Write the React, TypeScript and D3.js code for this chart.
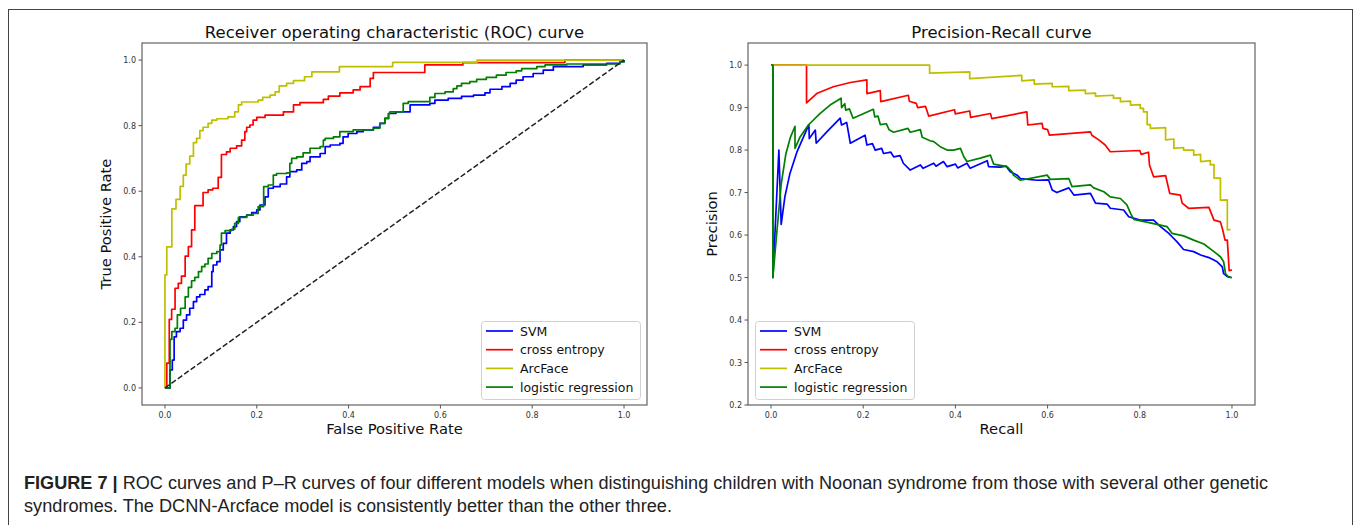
import React from 'react';
import * as d3 from 'd3';

type Pt = [number, number];

// legend order = drawing order
const models = ['SVM', 'cross entropy', 'ArcFace', 'logistic regression'];
const modelColors = ['#0000ff', '#ff0000', '#bfbf00', '#008000'];

// ROC curves: [false positive rate, true positive rate], drawn as steps
const rocSvm: Pt[] = [
  [0, 0], [0.011, 0.055], [0.016, 0.085], [0.02, 0.156], [0.025, 0.172], [0.033, 0.182], [0.04, 0.207],
  [0.047, 0.223], [0.054, 0.243], [0.062, 0.263], [0.069, 0.278], [0.076, 0.285], [0.087, 0.299],
  [0.094, 0.309], [0.102, 0.355], [0.105, 0.375], [0.113, 0.385], [0.12, 0.421], [0.127, 0.441],
  [0.134, 0.472], [0.142, 0.482], [0.149, 0.492], [0.156, 0.507], [0.163, 0.522], [0.178, 0.527],
  [0.189, 0.535], [0.2, 0.543], [0.207, 0.558], [0.218, 0.583], [0.225, 0.609], [0.236, 0.614],
  [0.251, 0.622], [0.265, 0.644], [0.272, 0.66], [0.287, 0.665], [0.298, 0.685], [0.309, 0.69],
  [0.316, 0.705], [0.338, 0.715], [0.349, 0.736], [0.36, 0.741], [0.381, 0.746], [0.388, 0.766],
  [0.399, 0.776], [0.418, 0.782], [0.432, 0.787], [0.454, 0.795], [0.468, 0.807], [0.479, 0.822],
  [0.487, 0.837], [0.503, 0.842], [0.534, 0.863], [0.577, 0.868], [0.588, 0.878], [0.617, 0.883],
  [0.646, 0.889], [0.672, 0.893], [0.697, 0.9], [0.708, 0.911], [0.734, 0.919], [0.752, 0.929],
  [0.765, 0.939], [0.78, 0.949], [0.802, 0.959], [0.824, 0.969], [0.846, 0.98], [0.911, 0.985],
  [0.962, 0.99], [0.991, 0.995], [1, 1],
];
const rocCe: Pt[] = [
  [0, 0], [0.004, 0.076], [0.0094, 0.209], [0.0146, 0.24], [0.022, 0.304], [0.029, 0.319], [0.036, 0.341],
  [0.044, 0.402], [0.051, 0.431], [0.058, 0.482], [0.065, 0.556], [0.083, 0.596], [0.094, 0.604],
  [0.104, 0.609], [0.116, 0.642], [0.123, 0.712], [0.134, 0.72], [0.142, 0.731], [0.156, 0.738],
  [0.167, 0.756], [0.174, 0.782], [0.178, 0.795], [0.185, 0.802], [0.192, 0.817], [0.2, 0.825],
  [0.218, 0.832], [0.258, 0.842], [0.28, 0.863], [0.294, 0.87], [0.345, 0.88], [0.356, 0.89],
  [0.381, 0.9], [0.41, 0.909], [0.425, 0.919], [0.447, 0.944], [0.454, 0.962], [0.566, 0.985],
  [0.649, 0.992], [0.871, 1], [1, 1],
];
const rocArc: Pt[] = [
  [0, 0], [0, 0.345], [0.004, 0.43], [0.015, 0.546], [0.024, 0.575], [0.033, 0.615], [0.04, 0.649],
  [0.046, 0.683], [0.054, 0.707], [0.062, 0.748], [0.069, 0.761], [0.076, 0.785], [0.083, 0.795],
  [0.094, 0.807], [0.102, 0.817], [0.113, 0.821], [0.137, 0.827], [0.152, 0.842], [0.16, 0.863],
  [0.167, 0.872], [0.203, 0.878], [0.213, 0.886], [0.229, 0.893], [0.24, 0.903], [0.249, 0.921],
  [0.265, 0.929], [0.28, 0.937], [0.304, 0.949], [0.32, 0.964], [0.38, 0.98], [0.496, 0.993],
  [0.68, 1], [1, 1],
];
const rocLr: Pt[] = [
  [0, 0], [0.011, 0.148], [0.015, 0.172], [0.022, 0.182], [0.027, 0.223], [0.034, 0.243], [0.044, 0.278],
  [0.051, 0.307], [0.058, 0.327], [0.065, 0.337], [0.073, 0.355], [0.08, 0.37], [0.087, 0.378],
  [0.094, 0.395], [0.102, 0.41], [0.113, 0.416], [0.12, 0.436], [0.123, 0.472], [0.131, 0.48],
  [0.145, 0.484], [0.152, 0.502], [0.16, 0.52], [0.178, 0.527], [0.192, 0.532], [0.203, 0.553],
  [0.215, 0.614], [0.225, 0.619], [0.236, 0.649], [0.243, 0.654], [0.265, 0.656], [0.272, 0.685],
  [0.276, 0.7], [0.287, 0.705], [0.301, 0.717], [0.316, 0.731], [0.338, 0.736], [0.345, 0.756],
  [0.349, 0.761], [0.367, 0.766], [0.381, 0.782], [0.41, 0.787], [0.454, 0.792], [0.468, 0.807],
  [0.479, 0.822], [0.487, 0.837], [0.49, 0.842], [0.519, 0.868], [0.53, 0.873], [0.577, 0.886],
  [0.588, 0.898], [0.61, 0.903], [0.628, 0.913], [0.636, 0.921], [0.646, 0.929], [0.664, 0.934],
  [0.679, 0.941], [0.7, 0.947], [0.722, 0.954], [0.743, 0.962], [0.765, 0.967], [0.777, 0.974],
  [0.81, 0.98], [0.828, 0.985], [0.875, 0.988], [0.991, 0.995], [1, 1],
];

// Precision-recall curves: [recall, precision]
const prSvm: Pt[] = [
  [0, 1], [0.004, 1], [0.004, 0.5], [0.017, 0.8], [0.022, 0.625], [0.03, 0.69], [0.041, 0.745],
  [0.056, 0.795], [0.07, 0.83], [0.082, 0.86], [0.083, 0.827], [0.096, 0.847], [0.098, 0.816],
  [0.121, 0.843], [0.15, 0.875], [0.153, 0.859], [0.164, 0.865], [0.172, 0.816], [0.204, 0.835],
  [0.208, 0.812], [0.22, 0.815], [0.226, 0.8], [0.24, 0.804], [0.244, 0.792], [0.26, 0.795],
  [0.266, 0.784], [0.28, 0.787], [0.287, 0.769], [0.302, 0.753], [0.324, 0.765], [0.33, 0.757],
  [0.353, 0.769], [0.358, 0.762], [0.374, 0.773], [0.382, 0.761], [0.4, 0.767], [0.405, 0.758],
  [0.425, 0.769], [0.432, 0.757], [0.469, 0.775], [0.472, 0.761], [0.497, 0.76], [0.51, 0.762],
  [0.519, 0.749], [0.534, 0.741], [0.541, 0.733], [0.577, 0.729], [0.602, 0.73], [0.61, 0.706],
  [0.62, 0.7], [0.646, 0.711], [0.657, 0.694], [0.693, 0.698], [0.704, 0.675], [0.729, 0.673],
  [0.736, 0.663], [0.765, 0.659], [0.776, 0.643], [0.801, 0.635], [0.83, 0.635], [0.845, 0.62],
  [0.863, 0.604], [0.87, 0.596], [0.881, 0.584], [0.895, 0.566], [0.917, 0.561], [0.932, 0.553],
  [0.95, 0.547], [0.968, 0.537], [0.979, 0.525], [0.982, 0.509], [0.99, 0.502], [0.997, 0.501],
];
const prCe: Pt[] = [
  [0, 1], [0.077, 1], [0.077, 0.911], [0.099, 0.933], [0.135, 0.949], [0.172, 0.959], [0.208, 0.965],
  [0.208, 0.933], [0.237, 0.94], [0.238, 0.914], [0.298, 0.929], [0.3, 0.915], [0.315, 0.91],
  [0.318, 0.9], [0.335, 0.903], [0.342, 0.88], [0.398, 0.895], [0.4, 0.885], [0.431, 0.892],
  [0.433, 0.877], [0.476, 0.886], [0.479, 0.874], [0.555, 0.89], [0.557, 0.859], [0.588, 0.863],
  [0.59, 0.851], [0.6, 0.848], [0.604, 0.835], [0.693, 0.843], [0.696, 0.835], [0.711, 0.824],
  [0.725, 0.812], [0.736, 0.796], [0.8, 0.799], [0.803, 0.79], [0.819, 0.795], [0.821, 0.765],
  [0.83, 0.737], [0.856, 0.74], [0.865, 0.698], [0.888, 0.694], [0.892, 0.675], [0.906, 0.663],
  [0.95, 0.665], [0.961, 0.635], [0.975, 0.631], [0.98, 0.612], [0.985, 0.588], [0.99, 0.588],
  [0.994, 0.516], [1, 0.518],
];
const prArc: Pt[] = [
  [0, 1], [0.344, 1], [0.344, 0.981], [0.431, 0.984], [0.431, 0.968], [0.544, 0.976], [0.544, 0.963],
  [0.571, 0.965], [0.571, 0.955], [0.61, 0.957], [0.61, 0.949], [0.646, 0.95], [0.646, 0.94],
  [0.682, 0.941], [0.682, 0.933], [0.704, 0.934], [0.704, 0.927], [0.743, 0.929], [0.743, 0.922],
  [0.758, 0.923], [0.758, 0.914], [0.78, 0.915], [0.78, 0.906], [0.801, 0.907], [0.801, 0.898],
  [0.808, 0.898], [0.808, 0.89], [0.816, 0.89], [0.816, 0.86], [0.823, 0.86], [0.823, 0.851],
  [0.856, 0.853], [0.856, 0.824], [0.874, 0.826], [0.874, 0.804], [0.895, 0.806], [0.895, 0.8],
  [0.917, 0.8], [0.917, 0.788], [0.932, 0.79], [0.932, 0.773], [0.953, 0.775], [0.953, 0.765],
  [0.961, 0.766], [0.961, 0.734], [0.975, 0.734], [0.975, 0.682], [0.99, 0.683], [0.99, 0.612],
  [0.997, 0.613],
];
const prLr: Pt[] = [
  [0, 1], [0.004, 1], [0.004, 0.5], [0.012, 0.6], [0.022, 0.72], [0.032, 0.79], [0.042, 0.83],
  [0.052, 0.856], [0.052, 0.804], [0.063, 0.831], [0.081, 0.859], [0.106, 0.886], [0.128, 0.906],
  [0.152, 0.922], [0.153, 0.9], [0.16, 0.909], [0.162, 0.894], [0.17, 0.897], [0.178, 0.875],
  [0.222, 0.896], [0.225, 0.878], [0.232, 0.88], [0.237, 0.86], [0.25, 0.862], [0.256, 0.848],
  [0.266, 0.842], [0.297, 0.851], [0.302, 0.842], [0.324, 0.848], [0.328, 0.83], [0.345, 0.822],
  [0.353, 0.82], [0.367, 0.808], [0.382, 0.8], [0.396, 0.8], [0.411, 0.804], [0.418, 0.785],
  [0.425, 0.773], [0.454, 0.781], [0.476, 0.788], [0.483, 0.767], [0.512, 0.761], [0.523, 0.749],
  [0.526, 0.741], [0.541, 0.729], [0.599, 0.741], [0.606, 0.731], [0.646, 0.733], [0.653, 0.714],
  [0.693, 0.718], [0.7, 0.711], [0.722, 0.702], [0.736, 0.69], [0.758, 0.686], [0.772, 0.671],
  [0.78, 0.651], [0.787, 0.637], [0.83, 0.627], [0.859, 0.62], [0.87, 0.604], [0.895, 0.598],
  [0.917, 0.588], [0.939, 0.579], [0.961, 0.561], [0.975, 0.549], [0.982, 0.537], [0.986, 0.509],
  [0.993, 0.501], [1, 0.5],
];

const xTicks = [0, 0.2, 0.4, 0.6, 0.8, 1.0];
const rocYTicks = [0, 0.2, 0.4, 0.6, 0.8, 1.0];
const prYTicks = [0.2, 0.3, 0.4, 0.5, 0.6, 0.7, 0.8, 0.9, 1.0];

const captionLead = 'FIGURE 7 |';
const captionLine1 = ' ROC curves and P\u2013R curves of four different models when distinguishing children with Noonan syndrome from those with several other genetic';
const captionLine2 = 'syndromes. The DCNN-Arcface model is consistently better than the other three.';

const FONT = 'DejaVu Sans, sans-serif';

interface PanelProps {
  x0: number; x1: number; y0: number; y1: number;
  yDomain: [number, number];
  yTicks: number[];
  series: Pt[][];
  curve: d3.CurveFactory;
  title: string; xLabel: string; yLabel: string;
  legendX: number;
  diagonal?: boolean;
}

function Panel(p: PanelProps) {
  const x = d3.scaleLinear().domain([-0.05, 1.05]).range([p.x0, p.x1]);
  const y = d3.scaleLinear().domain(p.yDomain).range([p.y1, p.y0]);
  const line = d3.line<Pt>().x(d => x(d[0])).y(d => y(d[1])).curve(p.curve);
  const cx = (p.x0 + p.x1) / 2;
  const cy = (p.y0 + p.y1) / 2;
  const ly = 321;
  return (
    <g fontFamily={FONT}>
      {p.series.map((s, i) => (
        <path key={i} d={line(s) || ''} fill="none" stroke={modelColors[i]} strokeWidth={1.7} strokeLinejoin="round" />
      ))}
      {p.diagonal && (
        <line x1={x(0)} y1={y(0)} x2={x(1)} y2={y(1)} stroke="#222" strokeWidth={1.5} strokeDasharray="5.5 2.4" />
      )}
      <rect x={p.x0} y={p.y0} width={p.x1 - p.x0} height={p.y1 - p.y0} fill="none" stroke="#555" strokeWidth={1.1} />
      {xTicks.map(t => (
        <g key={t}>
          <line x1={x(t)} x2={x(t)} y1={p.y1} y2={p.y1 + 3.5} stroke="#555" />
          <text x={x(t)} y={p.y1 + 13} fontSize={8} textAnchor="middle" fill="#333">{t.toFixed(1)}</text>
        </g>
      ))}
      {p.yTicks.map(t => (
        <g key={t}>
          <line x1={p.x0 - 3.5} x2={p.x0} y1={y(t)} y2={y(t)} stroke="#555" />
          <text x={p.x0 - 6} y={y(t) + 3} fontSize={8} textAnchor="end" fill="#333">{t.toFixed(1)}</text>
        </g>
      ))}
      <text x={cx} y={38} fontSize={16.5} textAnchor="middle" fill="#111">{p.title}</text>
      <text x={cx} y={434} fontSize={14.7} textAnchor="middle" fill="#111">{p.xLabel}</text>
      <text transform={`translate(${p.x0 - 31},${cy}) rotate(-90)`} fontSize={14.7} textAnchor="middle" fill="#111">{p.yLabel}</text>
      <g transform={`translate(${p.legendX},${ly})`}>
        <rect x={0.5} y={0.5} width={159} height={78} rx={3} fill="#fff" fillOpacity={0.85} stroke="#d0d0d0" />
        {models.map((m, i) => (
          <g key={m} transform={`translate(0,${10 + i * 18.7})`}>
            <line x1={5} x2={32} y1={0} y2={0} stroke={modelColors[i]} strokeWidth={1.7} />
            <text x={39} y={4.5} fontSize={12.5} fill="#111">{m}</text>
          </g>
        ))}
      </g>
    </g>
  );
}

export default function App() {
  return (
    <div style={{ position: 'absolute', left: 0, top: 0 }}>
      <svg width={1357} height={525} style={{ display: 'block', background: '#fff' }}>
        <rect x={8.5} y={9.5} width={1344} height={540} fill="none" stroke="#444" strokeWidth={1} />
        <Panel
          x0={142} x1={647} y0={43} y1={405}
          yDomain={[-0.052, 1.052]} yTicks={rocYTicks}
          series={[rocSvm, rocCe, rocArc, rocLr]} curve={d3.curveStepAfter}
          title="Receiver operating characteristic (ROC) curve"
          xLabel="False Positive Rate" yLabel="True Positive Rate"
          legendX={481} diagonal
        />
        <Panel
          x0={748} x1={1255} y0={43} y1={405}
          yDomain={[0.2, 1.052]} yTicks={prYTicks}
          series={[prSvm, prCe, prArc, prLr]} curve={d3.curveLinear}
          title="Precision-Recall curve"
          xLabel="Recall" yLabel="Precision"
          legendX={755}
        />
        <g fontFamily="Liberation Sans, Arial, sans-serif" fontSize={18} fill="#222">
          <text x={24} y={489} textLength={1244} lengthAdjust="spacingAndGlyphs">
            <tspan fontWeight="bold">{captionLead}</tspan>
            <tspan>{captionLine1}</tspan>
          </text>
          <text x={24} y={512} textLength={648} lengthAdjust="spacingAndGlyphs">{captionLine2}</text>
        </g>
      </svg>
    </div>
  );
}
